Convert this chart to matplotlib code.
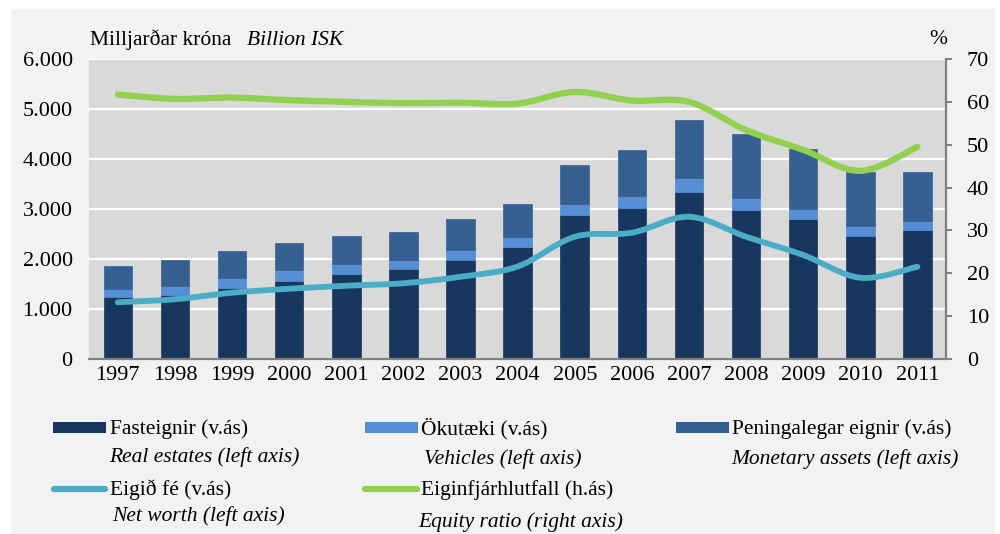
import matplotlib
matplotlib.use("Agg")
import matplotlib.pyplot as plt
from matplotlib.path import Path
from matplotlib.patches import PathPatch, Rectangle
from matplotlib.lines import Line2D
from matplotlib.ticker import FuncFormatter
import numpy as np

years = ["1997", "1998", "1999", "2000", "2001", "2002", "2003", "2004",
         "2005", "2006", "2007", "2008", "2009", "2010", "2011"]
real_estate = [1235, 1280, 1425, 1565, 1705, 1800, 1985, 2240, 2885, 3025, 3340, 2985, 2805, 2465, 2575]
vehicles = [165, 180, 195, 215, 195, 180, 195, 195, 220, 235, 275, 245, 205, 195, 185]
monetary = [460, 515, 535, 540, 555, 565, 625, 675, 780, 925, 1155, 1280, 1200, 1090, 975]
net_worth = [1135, 1195, 1325, 1405, 1465, 1515, 1645, 1850, 2445, 2525, 2845, 2445, 2080, 1625, 1845]
equity_ratio = [61.7, 60.7, 61.0, 60.4, 60.0, 59.7, 59.8, 59.6, 62.3, 60.3, 60.0, 53.4, 48.8, 43.9, 49.5]

C_REAL = "#17375e"
C_VEH = "#558ed5"
C_MON = "#376092"
C_NET = "#4bacc6"
C_EQ = "#92d050"
FONT = "Liberation Serif"

plt.rcParams["font.family"] = [FONT, "DejaVu Serif"]

W, H = 1000, 534
fig = plt.figure(figsize=(W / 100, H / 100), dpi=100, facecolor="white")
fig.patches.append(Rectangle((11 / W, 0), 984 / W, (H - 9) / H, transform=fig.transFigure,
                             facecolor="#f2f2f2", edgecolor="none", zorder=-10))

def fx(px):
    return px / W

def fy(py):
    return 1 - py / H

ax = fig.add_axes([fx(89.3), fy(359), 856.7 / W, 300 / H])
ax.set_facecolor("#d9d9d9")
x = np.arange(len(years))

bot1 = np.array(real_estate, dtype=float)
bot2 = bot1 + np.array(vehicles)
ax.bar(x, real_estate, width=0.5, color=C_REAL, zorder=2, edgecolor=C_REAL, linewidth=0.5)
ax.bar(x, vehicles, width=0.5, bottom=bot1, color=C_VEH, zorder=2, edgecolor=C_VEH, linewidth=0.5)
ax.bar(x, monetary, width=0.5, bottom=bot2, color=C_MON, zorder=2, edgecolor=C_MON, linewidth=0.5)

def smooth_path(xs, ys):
    n = len(xs)
    pts = list(zip(xs, ys))
    verts = [pts[0]]
    codes = [Path.MOVETO]
    for i in range(n - 1):
        p0 = pts[i - 1] if i > 0 else pts[i]
        p1 = pts[i]
        p2 = pts[i + 1]
        p3 = pts[i + 2] if i + 2 < n else pts[i + 1]
        c1 = (p1[0] + (p2[0] - p0[0]) / 6, p1[1] + (p2[1] - p0[1]) / 6)
        c2 = (p2[0] - (p3[0] - p1[0]) / 6, p2[1] - (p3[1] - p1[1]) / 6)
        verts += [c1, c2, p2]
        codes += [Path.CURVE4] * 3
    return Path(verts, codes)

ax.add_patch(PathPatch(smooth_path(x, net_worth), fill=False, edgecolor=C_NET, lw=4.2,
                       capstyle="round", joinstyle="round", zorder=3))

ax.set_xlim(-0.5, len(years) - 0.5)
ax.set_ylim(0, 6000)
ax.set_yticks(np.arange(0, 6001, 1000))
ax.yaxis.set_major_formatter(FuncFormatter(lambda v, p: f"{int(v):,}".replace(",", ".")))
ax.grid(axis="y", color="white", lw=1.6, zorder=1)
ax.set_axisbelow(True)
ax.set_xticks(x)
ax.set_xticklabels(years)
for s in ["left", "top", "right"]:
    ax.spines[s].set_visible(False)
ax.spines["bottom"].set_color("#808080")
ax.spines["bottom"].set_linewidth(1.6)
ax.tick_params(axis="y", length=0, pad=12, labelsize=16)
ax.tick_params(axis="x", length=0, pad=5, labelsize=16)

ax2 = ax.twinx()
ax2.set_ylim(0, 70)
ax2.set_yticks(np.arange(0, 71, 10))
ax2.add_patch(PathPatch(smooth_path(x, equity_ratio), fill=False, edgecolor=C_EQ, lw=4.5,
                        capstyle="round", joinstyle="round", zorder=3))
for s in ["left", "top", "bottom"]:
    ax2.spines[s].set_visible(False)
ax2.spines["right"].set_color("#808080")
ax2.spines["right"].set_linewidth(1.6)
ax2.tick_params(axis="y", direction="out", length=4, width=1.4, color="#808080", pad=11, labelsize=16)

# header texts
HFS = 15.5
fig.text(fx(90), fy(45), "Milljarðar króna", fontsize=HFS, va="baseline", ha="left")
fig.text(fx(247), fy(45), "Billion ISK", fontsize=HFS, style="italic", va="baseline", ha="left")
fig.text(fx(929), fy(44), "%", fontsize=HFS, va="baseline", ha="left")

# legend
LFS = 15.5
def rect_handle(x0, x1, yc, color):
    fig.patches.append(Rectangle((fx(x0), fy(yc + 5.5)), (x1 - x0) / W, 11 / H,
                                 transform=fig.transFigure, facecolor=color, edgecolor="none"))

def line_handle(x0, x1, yc, color):
    fig.lines.append(Line2D([fx(x0), fx(x1)], [fy(yc), fy(yc)], transform=fig.transFigure,
                            color=color, lw=4.5, solid_capstyle="round"))

rect_handle(53, 106, 427, C_REAL)
rect_handle(365, 418, 427, C_VEH)
rect_handle(676, 729, 427, C_MON)
line_handle(54, 105, 489, C_NET)
line_handle(365, 417, 489, C_EQ)

fig.text(fx(110), fy(434), "Fasteignir (v.ás)", fontsize=LFS, va="baseline")
fig.text(fx(421), fy(434), "Ökutæki (v.ás)", fontsize=LFS, va="baseline")
fig.text(fx(732), fy(434), "Peningalegar eignir (v.ás)", fontsize=LFS, va="baseline")
fig.text(fx(109), fy(462), "Real estates (left axis)", fontsize=LFS, style="italic", va="baseline")
fig.text(fx(424), fy(464), "Vehicles (left axis)", fontsize=LFS, style="italic", va="baseline")
fig.text(fx(731), fy(464), "Monetary assets (left axis)", fontsize=LFS, style="italic", va="baseline")
fig.text(fx(110), fy(495), "Eigið fé (v.ás)", fontsize=LFS, va="baseline")
fig.text(fx(421), fy(495), "Eiginfjárhlutfall (h.ás)", fontsize=LFS, va="baseline")
fig.text(fx(112), fy(521), "Net worth (left axis)", fontsize=LFS, style="italic", va="baseline")
fig.text(fx(418), fy(527), "Equity ratio (right axis)", fontsize=LFS, style="italic", va="baseline")

fig.savefig("out.png", dpi=100, facecolor=fig.get_facecolor())
